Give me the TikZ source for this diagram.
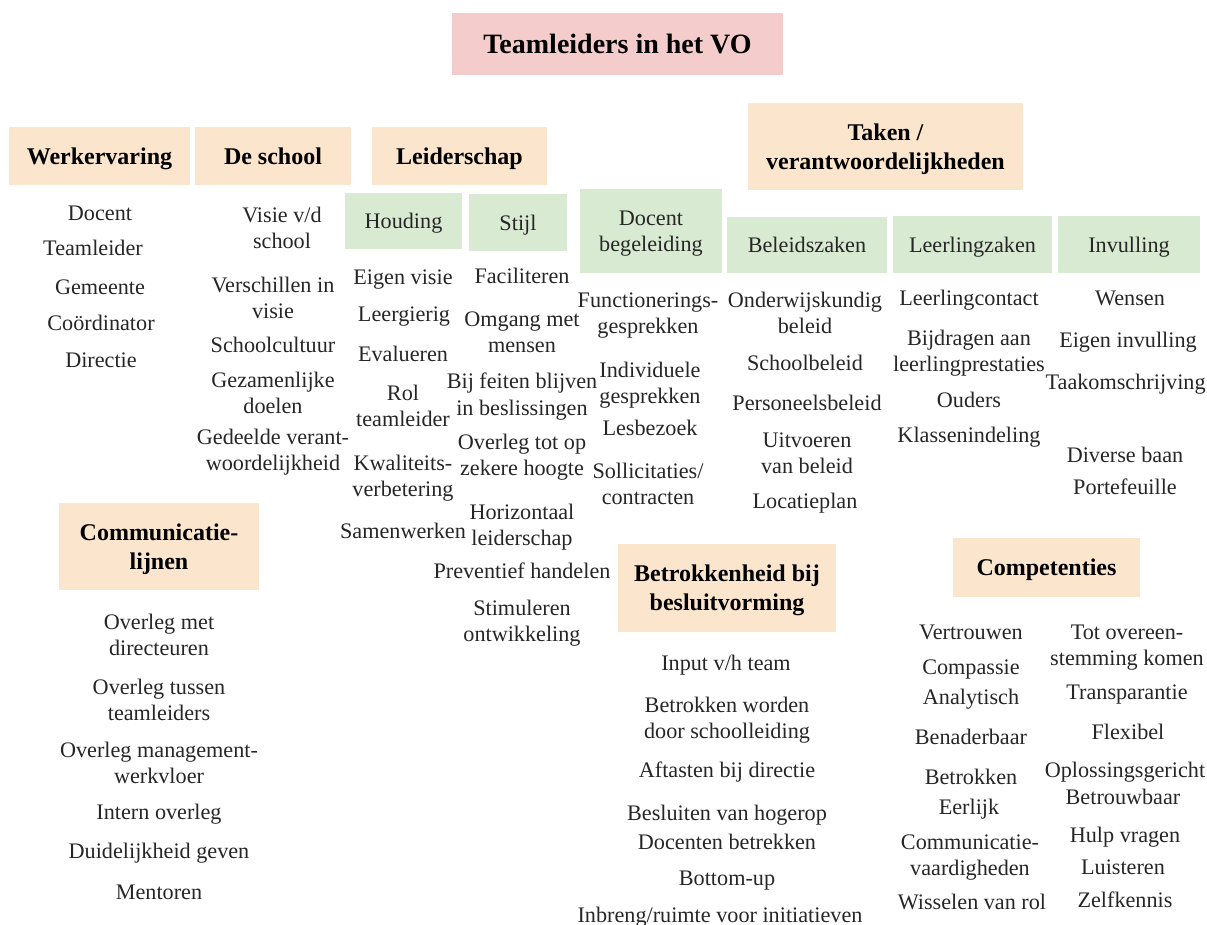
\documentclass[tikz,border=0pt]{standalone}
\usepackage{fontspec}
\setmainfont{Liberation Serif}
\usetikzlibrary{positioning}
\definecolor{peach}{HTML}{FCE5CD}
\definecolor{mint}{HTML}{D9EAD3}
\definecolor{rose}{HTML}{F4CCCC}
\tikzset{
    boxdim/.style 2 args={minimum width=#1*0.5pt, minimum height=#2*0.5pt},
    titlebox/.style={rectangle, fill=rose, inner sep=0pt, text depth=0pt,
        font=\fontsize{14}{17}\selectfont\bfseries},
    topic/.style={rectangle, fill=peach, align=center, inner sep=0pt, text depth=0pt,
        font=\fontsize{12}{14.5}\selectfont\bfseries},
    subtopic/.style={rectangle, fill=mint, align=center, inner sep=0pt, text depth=0pt,
        text=black!85, font=\fontsize{11.1}{13.2}\selectfont},
    item/.style={align=center, inner sep=0pt, text depth=0pt, text=black!85,
        font=\fontsize{11.1}{13.2}\selectfont}
}

\begin{document}
\begin{tikzpicture}[x=0.5pt, y=-0.5pt]
%% 1 unit = 1 px of the 1207 x 925 layout
\useasboundingbox (0,0) rectangle (1207,925);

\node[titlebox, boxdim={331}{62}] (title) at (617.5,44) {Teamleiders in het VO};

%% ── TOPICS ──────────────────────────────────────────────────────
\node[topic, boxdim={181}{58}]  (werk)    at (99.5,156)   {Werkervaring};
\node[topic, boxdim={156}{58}]  (school)  at (273,156)    {De school};
\node[topic, boxdim={175}{58}]  (leider)  at (459.5,156)  {Leiderschap};
\node[topic, boxdim={275}{87}]  (taken)   at (885.5,146.5){Taken /\\verantwoordelijkheden};
\node[topic, boxdim={200}{87}]  (comm)    at (159,546.5)  {Communicatie-\\lijnen};
\node[topic, boxdim={218}{88}]  (betrok)  at (727,588)    {Betrokkenheid bij\\besluitvorming};
\node[topic, boxdim={187}{59}]  (compet)  at (1046.5,567.5){Competenties};

%% ── SUBTOPICS ───────────────────────────────────────────────────
\node[subtopic, boxdim={117}{56}] (houding) at (403.5,221)  {Houding};
\node[subtopic, boxdim={98}{57}]  (stijl)   at (518,222.5)  {Stijl};
\node[subtopic, boxdim={142}{84}] (docbeg)  at (651,231)    {Docent\\begeleiding};
\node[subtopic, boxdim={160}{56}] (beleid)  at (807,245)    {Beleidszaken};
\node[subtopic, boxdim={159}{57}] (leerl)   at (972.5,244.5){Leerlingzaken};
\node[subtopic, boxdim={142}{57}] (invul)   at (1129,244.5) {Invulling};

%% ── WERKERVARING ────────────────────────────────────────────────
\node[item] (werk1) at (100,213) {Docent};
\node[item] (werk2) at (93,248)  {Teamleider};
\node[item] (werk3) at (100,287) {Gemeente};
\node[item] (werk4) at (101,323) {Coördinator};
\node[item] (werk5) at (101,360) {Directie};

%% ── DE SCHOOL ───────────────────────────────────────────────────
\node[item] (school1) at (282,228) {Visie v/d\\school};
\node[item] (school2) at (273,298) {Verschillen in\\visie};
\node[item] (school3) at (273,345) {Schoolcultuur};
\node[item] (school4) at (273,393) {Gezamenlijke\\doelen};
\node[item] (school5) at (273,450) {Gedeelde verant-\\woordelijkheid};

%% ── HOUDING ─────────────────────────────────────────────────────
\node[item] (houd1) at (403,277) {Eigen visie};
\node[item] (houd2) at (404,314) {Leergierig};
\node[item] (houd3) at (403,354) {Evalueren};
\node[item] (houd4) at (403,406) {Rol\\teamleider};
\node[item] (houd5) at (403,476) {Kwaliteits-\\verbetering};
\node[item] (houd6) at (403,531) {Samenwerken};

%% ── STIJL ───────────────────────────────────────────────────────
\node[item] (stijl1) at (522,276) {Faciliteren};
\node[item] (stijl2) at (522,332) {Omgang met\\mensen};
\node[item] (stijl3) at (522,394) {Bij feiten blijven\\in beslissingen};
\node[item] (stijl4) at (522,455) {Overleg tot op\\zekere hoogte};
\node[item] (stijl5) at (522,525) {Horizontaal\\leiderschap};
\node[item] (stijl6) at (522,571) {Preventief handelen};
\node[item] (stijl7) at (522,621) {Stimuleren\\ontwikkeling};

%% ── DOCENT BEGELEIDING ──────────────────────────────────────────
\node[item] (doc1) at (648,313) {Functionerings-\\gesprekken};
\node[item] (doc2) at (650,383) {Individuele\\gesprekken};
\node[item] (doc3) at (650,428) {Lesbezoek};
\node[item] (doc4) at (648,484) {Sollicitaties/\\contracten};

%% ── BELEIDSZAKEN ────────────────────────────────────────────────
\node[item] (bel1) at (805,313) {Onderwijskundig\\beleid};
\node[item] (bel2) at (805,363) {Schoolbeleid};
\node[item] (bel3) at (807,403) {Personeelsbeleid};
\node[item] (bel4) at (807,453) {Uitvoeren\\van beleid};
\node[item] (bel5) at (805,501) {Locatieplan};

%% ── LEERLINGZAKEN ───────────────────────────────────────────────
\node[item] (leer1) at (969,298) {Leerlingcontact};
\node[item] (leer2) at (969,351) {Bijdragen aan\\leerlingprestaties};
\node[item] (leer3) at (969,400) {Ouders};
\node[item] (leer4) at (969,435) {Klassenindeling};

%% ── INVULLING ───────────────────────────────────────────────────
\node[item] (inv1) at (1130,298) {Wensen};
\node[item] (inv2) at (1128,340) {Eigen invulling};
\node[item, anchor=east] (inv3) at (1206,382) {Taakomschrijving};
\node[item] (inv4) at (1125,455) {Diverse baan};
\node[item] (inv5) at (1125,487) {Portefeuille};

%% ── COMMUNICATIELIJNEN ──────────────────────────────────────────
\node[item] (comm1) at (159,635) {Overleg met\\directeuren};
\node[item] (comm2) at (159,700) {Overleg tussen\\teamleiders};
\node[item] (comm3) at (159,763) {Overleg management-\\werkvloer};
\node[item] (comm4) at (159,812) {Intern overleg};
\node[item] (comm5) at (159,851) {Duidelijkheid geven};
\node[item] (comm6) at (159,892) {Mentoren};

%% ── BETROKKENHEID BIJ BESLUITVORMING ────────────────────────────
\node[item] (betr1) at (726,663) {Input v/h team};
\node[item] (betr2) at (727,718) {Betrokken worden\\door schoolleiding};
\node[item] (betr3) at (727,770) {Aftasten bij directie};
\node[item] (betr4) at (727,813) {Besluiten van hogerop};
\node[item] (betr5) at (727,842) {Docenten betrekken};
\node[item] (betr6) at (727,878) {Bottom-up};
\node[item] (betr7) at (720,915) {Inbreng/ruimte voor initiatieven};

%% ── COMPETENTIES (two columns) ──────────────────────────────────
\node[item] (compL1) at (971,632) {Vertrouwen};
\node[item] (compL2) at (971,667) {Compassie};
\node[item] (compL3) at (971,697) {Analytisch};
\node[item] (compL4) at (971,737) {Benaderbaar};
\node[item] (compL5) at (971,777) {Betrokken};
\node[item] (compL6) at (969,807) {Eerlijk};
\node[item] (compL7) at (970,855) {Communicatie-\\vaardigheden};
\node[item] (compL8) at (972,902) {Wisselen van rol};

\node[item] (compR1) at (1127,645) {Tot overeen-\\stemming komen};
\node[item] (compR2) at (1127,692) {Transparantie};
\node[item] (compR3) at (1128,732) {Flexibel};
\node[item] (compR4) at (1125,770) {Oplossingsgericht};
\node[item] (compR5) at (1123,797) {Betrouwbaar};
\node[item] (compR6) at (1125,835) {Hulp vragen};
\node[item] (compR7) at (1123,867) {Luisteren};
\node[item] (compR8) at (1125,900) {Zelfkennis};

\end{tikzpicture}
\end{document}
